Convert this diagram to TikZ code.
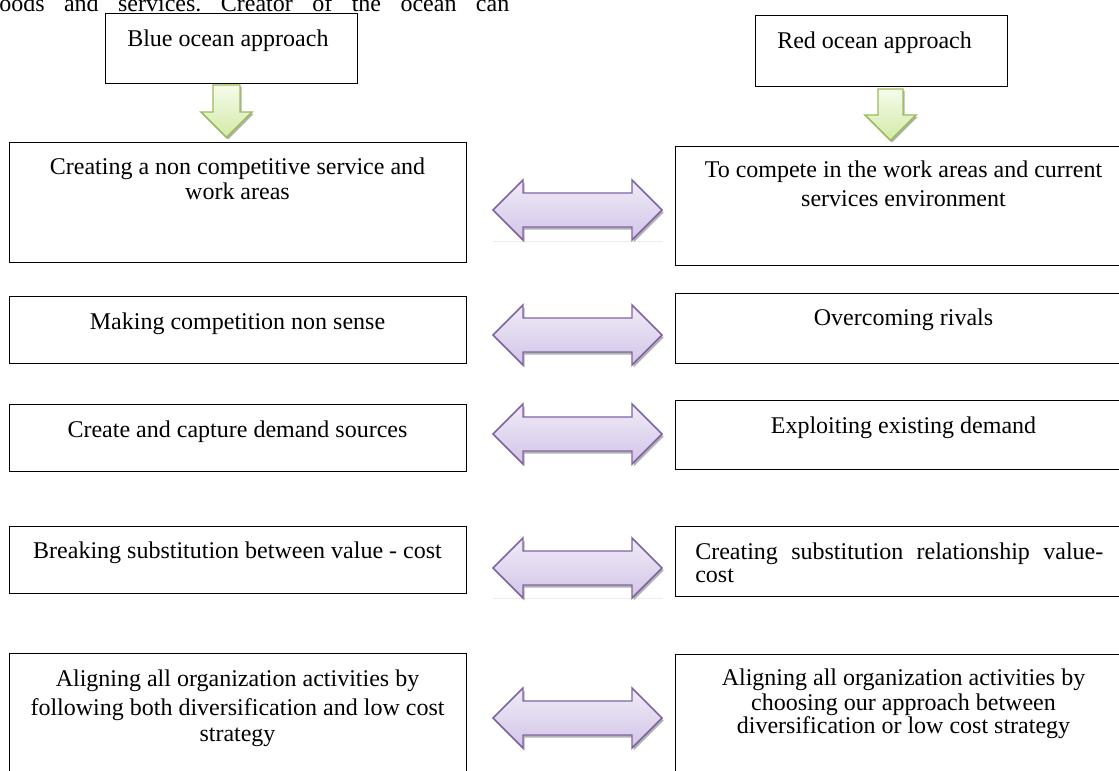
\documentclass[tikz,border=0pt]{standalone}
\usepackage{fontspec}
\setmainfont{Liberation Serif}
\frenchspacing
\definecolor{pborder}{HTML}{8064A2}
\definecolor{ptop}{HTML}{F0EBF7}
\definecolor{pbot}{HTML}{D2C5E7}
\definecolor{gborder}{HTML}{9BBB59}
\definecolor{gtop}{HTML}{F5FBEA}
\definecolor{gbot}{HTML}{D3EAA8}
\newcommand{\arrowpath}{(493,0) -- (523,-30) -- (523,-17) -- (632,-17) -- (632,-30) -- (662,0) -- (632,30) -- (632,17) -- (523,17) -- (523,30) -- cycle}
\newcommand{\purplearrow}[1]{%
  \begin{scope}[shift={(0,#1)}]
    \begin{scope}[shift={(1.5,2.5)}]
      \fill[gray!60] \arrowpath;
    \end{scope}
    \draw[parrow] \arrowpath;
  \end{scope}}
\newcommand{\greenarrow}[5]{% x-left shaft, x-right shaft, top, head base, head extra
  \begin{scope}[shift={(1.5,2)}]
  \fill[gray!60] (#1,#3) -- (#2,#3) -- (#2,#4) -- (#2+#5,#4) -- ({(#1+#2)/2},{#4+(#2-#1)/2+#5}) -- (#1-#5,#4) -- (#1,#4) -- cycle;
  \end{scope}
  \draw[garrow] (#1,#3) -- (#2,#3) -- (#2,#4) -- (#2+#5,#4) -- ({(#1+#2)/2},{#4+(#2-#1)/2+#5}) -- (#1-#5,#4) -- (#1,#4) -- cycle;}
\begin{document}
\begin{tikzpicture}[x=0.75pt,y=-0.75pt,
  boxst/.style={draw=black, line width=1.1pt, inner sep=0pt, anchor=north west},
  txt/.style={font=\fontsize{18}{17.25}\selectfont, inner sep=0pt, align=center, anchor=north},
  parrow/.style={draw=pborder, line width=1.1pt, top color=ptop, bottom color=pbot},
  garrow/.style={draw=gborder, line width=1.1pt, top color=gtop, bottom color=gbot}]
\useasboundingbox (0,0) rectangle (1119,770);
\clip (0,0) rectangle (1119,770);
\fill[white] (0,0) rectangle (1119,770);

% running text at top
\node[font=\fontsize{18}{17.25}\selectfont, inner sep=0pt, anchor=base west] (toptext) at (-1,12)
  {\makebox[382.5pt][s]{oods and services. Creator of the ocean can}};

% approach boxes
\node[boxst, minimum width=252*0.75pt, minimum height=70*0.75pt] (blue) at (105,13) {};
\node[font=\fontsize{18}{17.25}\selectfont, inner sep=0pt, anchor=base west] (bluet) at (127,47) {Blue ocean approach};
\node[boxst, minimum width=252*0.75pt, minimum height=71*0.75pt] (red) at (755,15) {};
\node[font=\fontsize{18}{17.25}\selectfont, inner sep=0pt, anchor=base west] (redt) at (777,49) {Red ocean approach};

% green arrows
\greenarrow{213}{240}{85}{112}{12}
\greenarrow{878}{903}{89}{115}{13}

% left boxes
\node[boxst, minimum width=457*0.75pt, minimum height=120*0.75pt] (L1) at (9,142) {};
\node[boxst, minimum width=457*0.75pt, minimum height=67*0.75pt] (L2) at (9,296) {};
\node[boxst, minimum width=457*0.75pt, minimum height=67*0.75pt] (L3) at (9,404) {};
\node[boxst, minimum width=457*0.75pt, minimum height=67*0.75pt] (L4) at (9,526) {};
\node[boxst, minimum width=457*0.75pt, minimum height=140*0.75pt] (L5) at (9,653) {};
% right boxes
\node[boxst, minimum width=457*0.75pt, minimum height=119*0.75pt] (R1) at (675,146) {};
\node[boxst, minimum width=457*0.75pt, minimum height=70*0.75pt] (R2) at (675,293) {};
\node[boxst, minimum width=457*0.75pt, minimum height=69*0.75pt] (R3) at (675,400) {};
\node[boxst, minimum width=457*0.75pt, minimum height=70*0.75pt] (R4) at (675,526) {};
\node[boxst, minimum width=457*0.75pt, minimum height=140*0.75pt] (R5) at (675,654) {};

% texts
\node[txt] (L1t) at (237.5,158) {\strut Creating a non competitive service and\\work areas};
\node[txt] (L2t) at (237.5,313) {\strut Making competition non sense};
\node[txt] (L3t) at (237.5,421) {\strut Create and capture demand sources};
\node[txt] (L4t) at (237.5,542) {\strut Breaking substitution between value - cost};
\node[txt] (L5t) at (237.5,670) {\strut Aligning all organization activities by\\[2.25pt]following both diversification and low cost\\[2.25pt]strategy};

\node[txt] (R1t) at (903.5,161) {\strut To compete in the work areas and current\\[4.5pt]services environment};
\node[txt] (R2t) at (903.5,309) {\strut Overcoming rivals};
\node[txt] (R3t) at (903.5,417) {\strut Exploiting existing demand};
\node[txt, align=left, anchor=north west] (R4t) at (695,543) {\strut\makebox[306pt][s]{Creating substitution relationship value-}\\cost};
\node[txt] (R5t) at (903.5,669) {\strut Aligning all organization activities by\\choosing our approach between\\diversification or low cost strategy};

% faint rules under two arrows
\draw[gray!15, line width=0.6pt] (493,241) -- (663,241);
\draw[gray!15, line width=0.6pt] (493,598) -- (663,598);

% double arrows
\purplearrow{210}
\purplearrow{335}
\purplearrow{434}
\purplearrow{568}
\purplearrow{718}
\end{tikzpicture}
\end{document}
